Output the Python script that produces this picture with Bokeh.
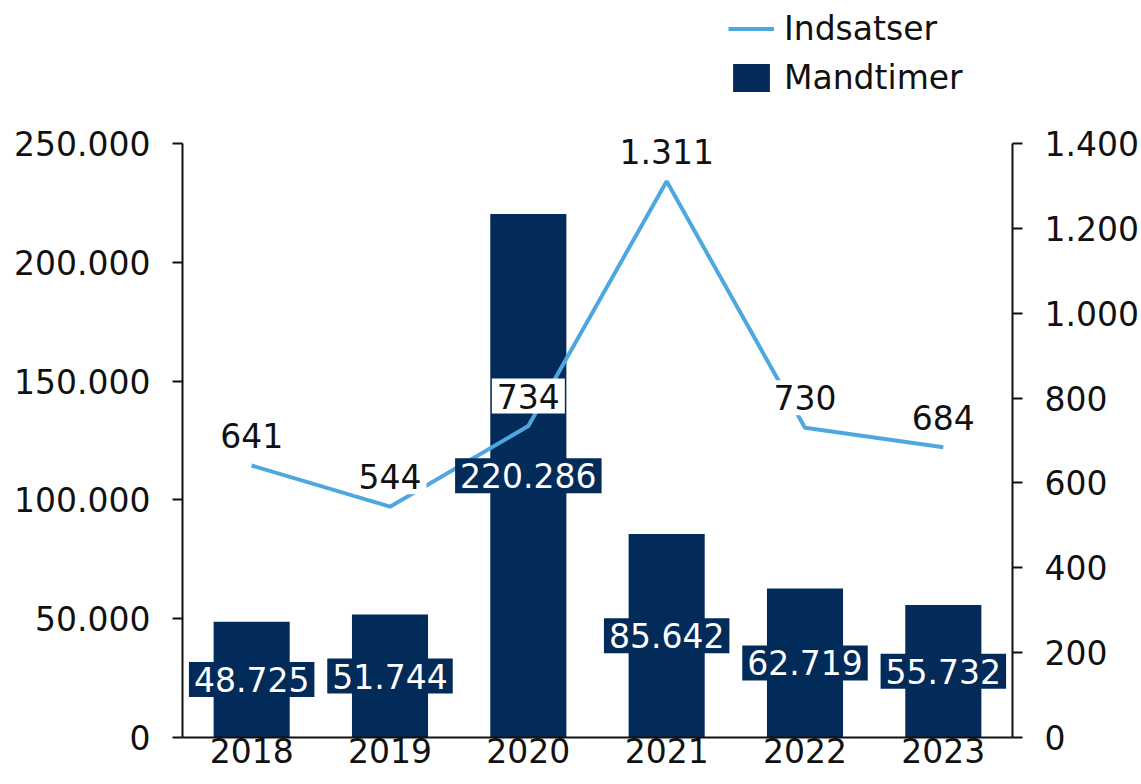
from bokeh.plotting import figure
from bokeh.models import (LinearAxis, Range1d, CustomJSTickFormatter, Legend, LegendItem,
                          FixedTicker, FactorRange, ColumnDataSource)
from bokeh.core.properties import value
from bokeh.embed import file_html
from bokeh.resources import INLINE

years = ["2018", "2019", "2020", "2021", "2022", "2023"]
mandtimer = [48725, 51744, 220286, 85642, 62719, 55732]
indsatser = [641, 544, 734, 1311, 730, 684]
left_ticks = [0, 50000, 100000, 150000, 200000, 250000]
right_ticks = [0, 200, 400, 600, 800, 1000, 1200, 1400]
left_max = 250000
right_max = 1400

NAVY = "#022B5A"
BLUE = "#4EA7DE"
FONT = "DejaVu Sans"
FS = "33px"
INK = "#111111"

# layout (pixels)
W, H = 1141, 784
BORDER_L, BORDER_R, BORDER_B = 182, 129, 47
AXIS_PX = 594            # pixel height of the 0..max axis span
FRAME_PX = H - BORDER_B  # frame reaches the top of the canvas (room for legend)
stretch = FRAME_PX / AXIS_PX

def dk(v):
    return f"{v:,}".replace(",", ".")

bar_labels = [dk(v) for v in mandtimer]
line_labels = [dk(v) for v in indsatser]
bar_mid = [v / 2 for v in mandtimer]

src = ColumnDataSource(dict(years=years, mandtimer=mandtimer, indsatser=indsatser,
                            bar_labels=bar_labels, line_labels=line_labels, bar_mid=bar_mid))

p = figure(width=W, height=H, x_range=FactorRange(factors=years),
           y_range=Range1d(0, left_max * stretch), output_backend="svg", toolbar_location=None,
           min_border_left=BORDER_L, min_border_right=BORDER_R, min_border_top=0,
           min_border_bottom=BORDER_B)
p.extra_y_ranges = {"right": Range1d(0, right_max * stretch)}
p.outline_line_color = None
p.xgrid.grid_line_color = None
p.ygrid.grid_line_color = None

fmt = CustomJSTickFormatter(code="return Math.round(tick).toString().replace(/\\B(?=(\\d{3})+(?!\\d))/g, '.');")

yl = p.yaxis[0]
yl.ticker = FixedTicker(ticks=left_ticks)
yl.formatter = fmt
yl.bounds = (0, left_max)
yr = LinearAxis(y_range_name="right", ticker=FixedTicker(ticks=right_ticks), formatter=fmt,
                bounds=(0, right_max))
p.add_layout(yr, "right")

for ax in (yl, yr):
    ax.major_tick_out = 10
    ax.major_tick_in = 0
    ax.minor_tick_out = 0
    ax.minor_tick_in = 0
    ax.axis_line_width = 2
    ax.major_tick_line_width = 2
    ax.axis_line_color = INK
    ax.major_tick_line_color = INK
    ax.major_label_standoff = 22

xa = p.xaxis[0]
xa.major_tick_out = 0
xa.major_tick_in = 0
xa.major_label_standoff = 0
xa.axis_line_width = 2
xa.axis_line_color = INK

for ax in (yl, yr, xa):
    ax.major_label_text_font = FONT
    ax.major_label_text_font_size = FS
    ax.major_label_text_color = INK

bars = p.vbar(x="years", top="mandtimer", width=0.55, color=NAVY, line_color=None, source=src)
line = p.line(x="years", y="indsatser", y_range_name="right", line_color=BLUE, line_width=4,
              source=src)

p.text(x="years", y="bar_mid", text="bar_labels", text_align="center", text_baseline="middle",
       text_color="white", text_font=value(FONT), text_font_size=FS,
       background_fill_color=NAVY, padding=5, source=src)
p.text(x="years", y="indsatser", y_range_name="right", text="line_labels", text_align="center",
       text_baseline="middle", text_color=INK, text_font=value(FONT), text_font_size=FS,
       y_offset=-30, background_fill_color="white", padding=5, source=src)

legend = Legend(items=[LegendItem(label="Indsatser", renderers=[line]),
                       LegendItem(label="Mandtimer", renderers=[bars])],
                location="top_right", orientation="vertical",
                glyph_width=46, glyph_height=35, label_standoff=10, spacing=10,
                label_width=219,
                label_text_font=FONT, label_text_font_size=FS, label_text_color=INK,
                background_fill_alpha=0, border_line_color=None, padding=0, margin=9)
p.add_layout(legend)

open("out.html", "w").write(file_html(p, INLINE))
